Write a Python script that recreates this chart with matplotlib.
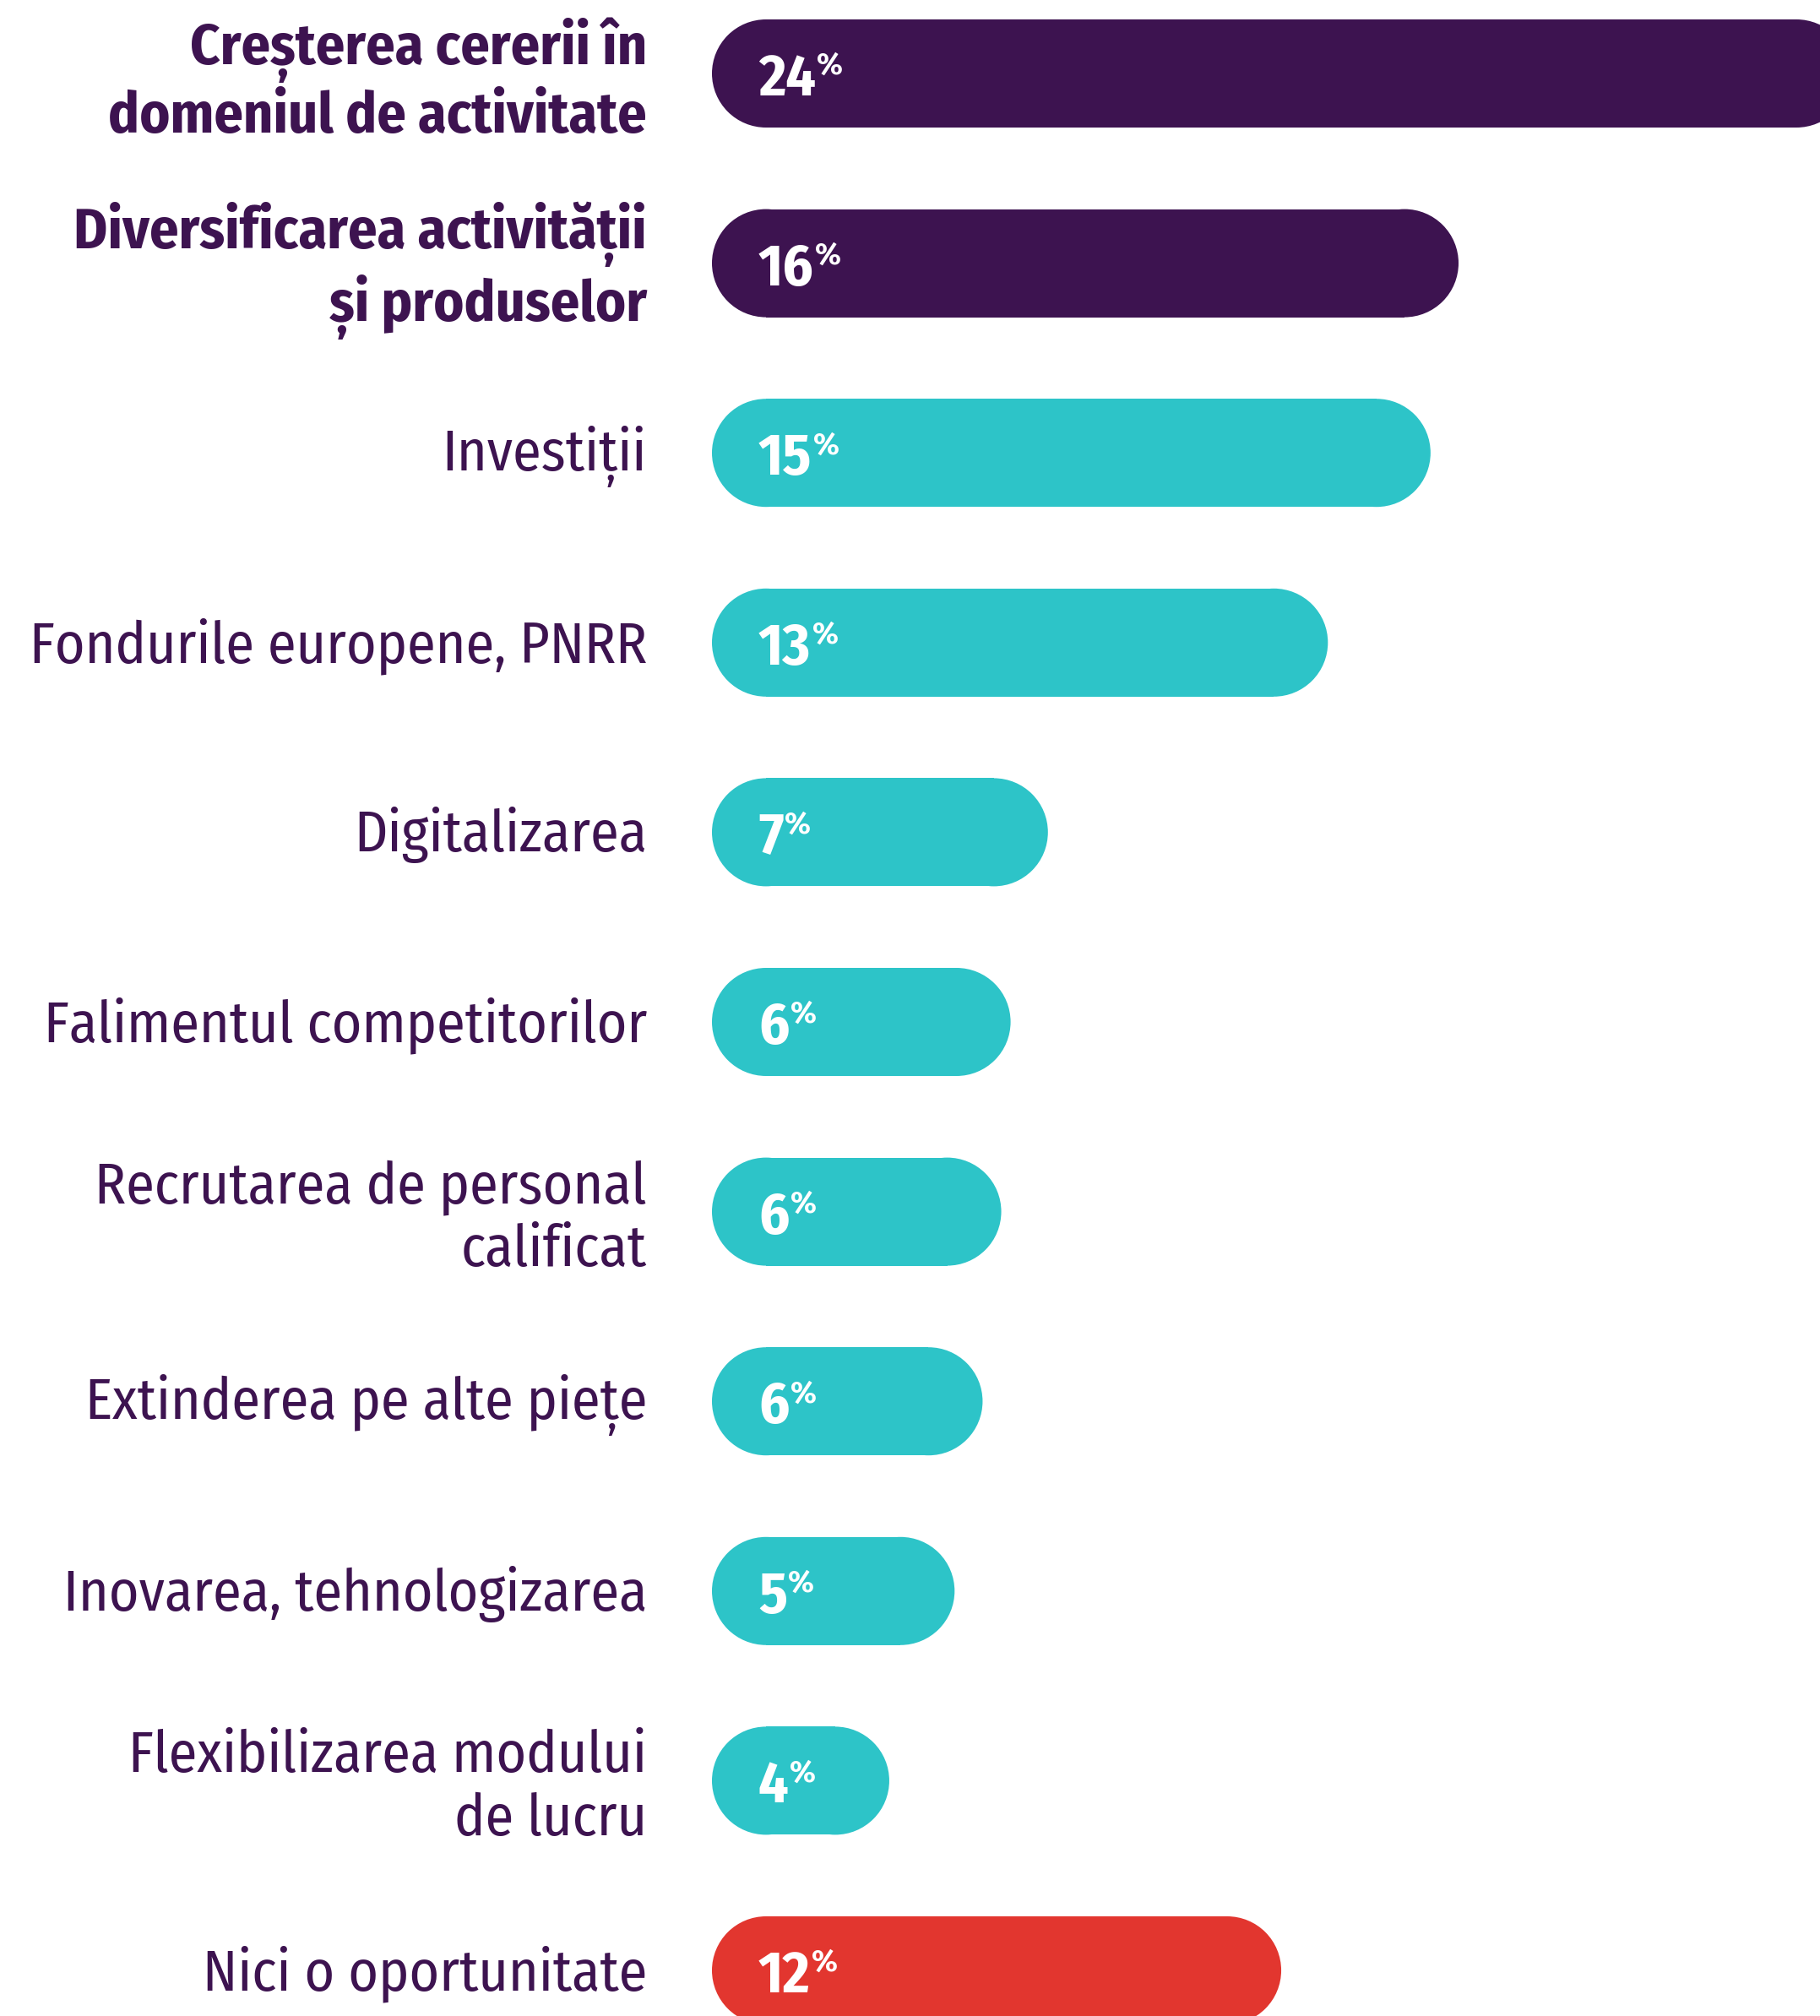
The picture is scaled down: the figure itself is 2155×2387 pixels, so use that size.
import matplotlib
matplotlib.use("Agg")
import matplotlib.pyplot as plt
from matplotlib.patches import Ellipse

# ---------------- data ----------------
categories = [
    "Creșterea cererii în\ndomeniul de activitate",
    "Diversificarea activității\nși produselor",
    "Investiții",
    "Fondurile europene, PNRR",
    "Digitalizarea",
    "Falimentul competitorilor",
    "Recrutarea de personal\ncalificat",
    "Extinderea pe alte piețe",
    "Inovarea, tehnologizarea",
    "Flexibilizarea modului\nde lucru",
    "Nici o oportunitate",
]
values = [24.4, 16.0, 15.4, 13.2, 7.2, 6.4, 6.2, 5.8, 5.2, 3.8, 12.2]
groups = ["top", "top", "other", "other", "other", "other", "other", "other", "other", "other", "none"]
bold_label = [True, True, False, False, False, False, False, False, False, False, False]

# ---------------- style ----------------
PURPLE = "#3D1350"
TEAL = "#2DC4C8"
RED = "#E2362F"
group_color = {"top": PURPLE, "other": TEAL, "none": RED}
FONT = ["Fira Sans Condensed", "Fira Sans", "DejaVu Sans Condensed", "DejaVu Sans"]
FONT_PCT = ["Fira Sans", "DejaVu Sans"]

W, H, DPI = 2155, 2387, 100
px_per_unit_x = 55.25      # pixels per percentage point
row_px = 224.6             # pixels between bar centres
x0_px = 843                # bar start
y0_px = 87                 # first bar centre (from top)
bar_px = 128               # bar thickness

fig = plt.figure(figsize=(W / DPI, H / DPI), dpi=DPI)
ax = fig.add_axes([0, 0, 1, 1])
ax.set_xlim(-x0_px / px_per_unit_x, (W - x0_px) / px_per_unit_x)
ax.set_ylim((H - y0_px) / row_px, -y0_px / row_px)
ax.axis("off")

bar_h = bar_px / row_px
r_x = (bar_px / 2) / px_per_unit_x   # cap radius in x data units

ypos = list(range(len(categories)))
cols = [group_color[g] for g in groups]

# straight middle part of the pill bars
ax.barh(ypos, [v - 2 * r_x for v in values], left=r_x, height=bar_h,
        color=cols, edgecolor="none", linewidth=0)

for i, (cat, v, col, b) in enumerate(zip(categories, values, cols, bold_label)):
    # round caps
    for cx in (r_x, v - r_x):
        ax.add_patch(Ellipse((cx, i), 2 * r_x, bar_h, facecolor=col,
                             edgecolor="none", linewidth=0))

    dy = -9 if "\n" in cat else -4
    ax.annotate(cat, xy=(0, i), xytext=(-77, dy), textcoords="offset pixels",
                ha="right", va="center", fontsize=49, color=PURPLE,
                family=FONT, fontweight="bold" if b else "normal",
                linespacing=1.17, multialignment="right")

    num = ax.annotate(f"{round(v):d}", xy=(0, i), xytext=(55, -26),
                      textcoords="offset pixels", ha="left", va="baseline",
                      fontsize=50, color="white", family=FONT, fontweight="bold")
    ax.annotate("%", xy=(1.0, i), xycoords=(num, "data"), xytext=(1.5, -1),
                textcoords="offset pixels", ha="left", va="baseline",
                fontsize=26, color="white", family=FONT_PCT, fontweight="bold")

fig.savefig("out.png", dpi=DPI, facecolor="white")
